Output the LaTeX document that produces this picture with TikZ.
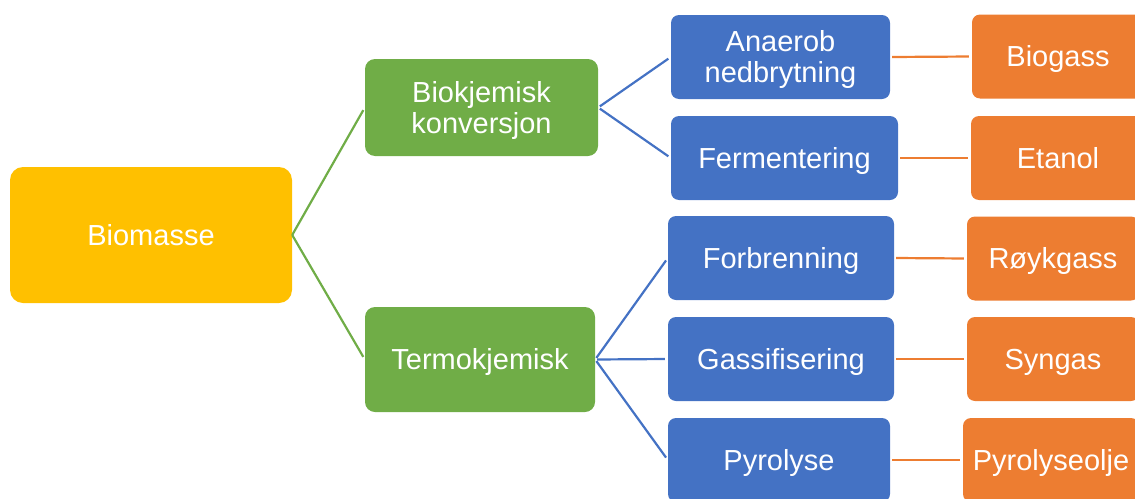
\documentclass[tikz,border=0pt]{standalone}
\usepackage{fontspec}
\setmainfont{Liberation Sans}
\definecolor{cyellow}{HTML}{FFC000}
\definecolor{cgreen}{HTML}{70AD47}
\definecolor{cblue}{HTML}{4472C4}
\definecolor{corange}{HTML}{ED7D31}
\tikzset{
  box/.style={draw=none, text=white, align=center, inner sep=0pt,
    font=\fontsize{29}{31}\selectfont, text height=20.8pt, text depth=0pt},
  twoline/.style={text height=51.8pt, text depth=0pt},
  rootbox/.style={box, fill=cyellow, rounded corners=13pt},
  midbox/.style={box, fill=cgreen, rounded corners=10pt},
  procbox/.style={box, fill=cblue, rounded corners=8pt, minimum height=84pt},
  prodbox/.style={box, fill=corange, rounded corners=8pt, minimum height=84pt},
  link/.style={line width=2.2pt, shorten <=2pt, shorten >=3pt},
}
\begin{document}
\begin{tikzpicture}[x=1pt, y=-1pt]
  \useasboundingbox (0,0) rectangle (1135,498);
  \clip (0,0) rectangle (1135,498);

  % root
  \node[rootbox, minimum width=282pt, minimum height=136pt] (bio) at (151,235) {Biomasse};

  % conversion routes
  \node[midbox, twoline, minimum width=233pt, minimum height=97pt] (biok) at (481.5,107.5) {Biokjemisk\\konversjon};
  \node[midbox, minimum width=230pt, minimum height=105pt] (termo) at (480,359.5) {Termokjemisk};

  % processes
  \node[procbox, twoline, minimum width=219pt] (anaer) at (780.5,57) {Anaerob\\nedbrytning};
  \node[procbox, minimum width=227pt] (ferm) at (784.5,158) {Fermentering};
  \node[procbox, minimum width=226pt] (forb) at (781,258) {Forbrenning};
  \node[procbox, minimum width=226pt] (gass) at (781,359) {Gassifisering};
  \node[procbox, minimum width=222pt] (pyro) at (779,460) {Pyrolyse};

  % products
  \node[prodbox, minimum width=172pt] (biog) at (1058,56.5) {Biogass};
  \node[prodbox, minimum width=174pt] (etan) at (1058,158) {Etanol};
  \node[prodbox, minimum width=172pt] (royk) at (1053,258.5) {Røykgass};
  \node[prodbox, minimum width=172pt] (syng) at (1053,359) {Syngas};
  \node[prodbox, minimum width=176pt] (pyol) at (1051,460) {Pyrolyseolje};

  % connectors
  \draw[link, cgreen, shorten <=0pt] (bio.east) -- (biok.west);
  \draw[link, cgreen, shorten <=0pt] (bio.east) -- (termo.west);

  \draw[link, cblue] (biok.east) -- (anaer.west);
  \draw[link, cblue] (biok.east) -- (ferm.west);
  \draw[link, cblue] (termo.east) -- (forb.west);
  \draw[link, cblue] (termo.east) -- (gass.west);
  \draw[link, cblue] (termo.east) -- (pyro.west);

  \draw[link, corange] (anaer.east) -- (biog.west);
  \draw[link, corange] (ferm.east) -- (etan.west);
  \draw[link, corange] (forb.east) -- (royk.west);
  \draw[link, corange] (gass.east) -- (syng.west);
  \draw[link, corange] (pyro.east) -- (pyol.west);
\end{tikzpicture}
\end{document}
